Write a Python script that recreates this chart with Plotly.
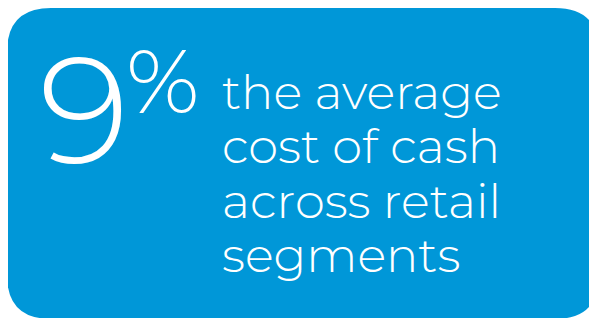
import plotly.graph_objects as go

# Content
headline_value = ["9"]
headline_unit = ["%"]
caption_lines = ["the average", "cost of cash", "across retail", "segments"]

W, H = 597, 318
OFF = 8  # page body margin; axes ranges are shifted so data coords == window pixels
BLUE = "#0097D8"
FONT = "Montserrat, Lato, 'Open Sans', sans-serif"

fig = go.Figure()

# Rounded box
x0, y0, x1, y1, r = 7, 8, 599, 319, 44
path = (f"M {x0+r},{y0} L {x1-r},{y0} Q {x1},{y0} {x1},{y0+r} "
        f"L {x1},{y1-r} Q {x1},{y1} {x1-r},{y1} L {x0+r},{y1} "
        f"Q {x0},{y1} {x0},{y1-r} L {x0},{y0+r} Q {x0},{y0} {x0+r},{y0} Z")
fig.add_shape(type="path", path=path, xref="x", yref="y",
              fillcolor=BLUE, line=dict(width=0), layer="below")

# Big number
fig.add_annotation(x=37, y=109, xref="x", yref="y", text=headline_value[0],
                   showarrow=False, xanchor="left", yanchor="middle",
                   font=dict(family=FONT, size=150, color="white", weight=300))
fig.add_annotation(x=124, y=81, xref="x", yref="y", text=headline_unit[0],
                   showarrow=False, xanchor="left", yanchor="middle",
                   font=dict(family=FONT, size=90, color="white", weight=300))

# Caption lines
baselines = [106, 160, 215, 269]
for line, b in zip(caption_lines, baselines):
    fig.add_annotation(x=220, y=b - 14, xref="x", yref="y", text=line,
                       showarrow=False, xanchor="left", yanchor="middle",
                       font=dict(family=FONT, size=48, color="white", weight=300))

fig.update_xaxes(range=[OFF, W + OFF], visible=False, fixedrange=True)
fig.update_yaxes(range=[H + OFF, OFF], visible=False, fixedrange=True)
fig.update_layout(width=W, height=H, margin=dict(l=0, r=0, t=0, b=0),
                  paper_bgcolor="white", plot_bgcolor="white", showlegend=False)

fig.write_html("out.html", config={"displayModeBar": False})
